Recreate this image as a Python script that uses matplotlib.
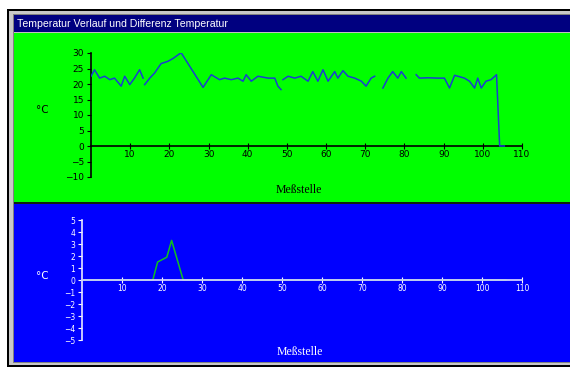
import matplotlib
matplotlib.use("Agg")
import matplotlib.pyplot as plt
import numpy as np
from matplotlib.patches import Rectangle

# Temperaturverlauf (obere Grafik), NaN = Luecke in der Kurve
temp_x = [0, 0.9, 2.2, 3.5, 4.8, 6, 7.7, 8.6, 9.9, 11.1, 12.4, 13.3, np.nan,
          13.7, 15, 16.2, 17.9, 19.6, 20.9, 23, 28.6, 30.7, 32.8, 34.1, 35.8,
          37.5, 38.8, 39.6, 40.9, 42.6, 45.2, 46.9, 47.7, 48.5, np.nan,
          49, 50.3, 52, 53.6, 55.4, 56.6, 57.9, 59.2, 60.5, 62.2, 63, 64.3,
          65.6, 67.3, 69, 70.2, 71.5, 72.4, np.nan,
          74.5, 75.8, 77, 78.3, 79.2, 80.4, np.nan,
          83, 83.8, 86, 88.5, 90.2, 91.5, 92.8, 95.3, 96.6, 97.9, 98.7, 99.6,
          100.8, 102.1, 103.5, 104.3, 105.5]
temp_y = [22.5, 24.6, 21.9, 22.5, 21.4, 21.9, 19.3, 22.5, 19.8, 21.9, 24.6, 21.9, np.nan,
          19.8, 21.9, 23.5, 26.6, 27.3, 28.2, 30.1, 18.9, 23, 21.4, 21.9, 21.4,
          21.9, 20.9, 23, 20.9, 22.5, 21.9, 21.9, 19.3, 18.2, np.nan,
          21.4, 22.5, 21.9, 22.5, 20.9, 24, 20.9, 24.6, 20.9, 24, 21.9, 24.3,
          22.5, 21.9, 20.9, 19.3, 21.9, 22.5, np.nan,
          18.7, 21.9, 24, 21.9, 24, 21.9, np.nan,
          23, 21.9, 22, 21.9, 21.9, 18.7, 22.8, 21.9, 20.9, 18.7, 21.9, 18.7,
          20.9, 21.4, 23, 0, 0]

# Differenz Temperatur (untere Grafik)
diff_x = [0, 17.7, 18.9, 21.2, 22.4, 25.3, 106]
diff_y = [0, 0, 1.5, 1.9, 3.3, 0, 0]

x_ticks = [10, 20, 30, 40, 50, 60, 70, 80, 90, 100, 110]
top_yticks = [30, 25, 20, 15, 10, 5, 0, -5, -10]
bot_yticks = [5, 4, 3, 2, 1, 0, -1, -2, -3, -4, -5]
title = "Temperatur Verlauf und Differenz Temperatur"

W, H = 570, 367
fig = plt.figure(figsize=(W / 100, H / 100), dpi=100)
fig.patch.set_facecolor("white")


def px_rect(x0, y0, x1, y1, color):
    # Rechteck in Pixelkoordinaten (Ursprung oben links)
    r = Rectangle((x0 / W, 1 - y1 / H), (x1 - x0) / W, (y1 - y0) / H,
                  transform=fig.transFigure, facecolor=color,
                  edgecolor="none", zorder=-10)
    fig.patches.append(r)


def px_axes(x0, y0, x1, y1):
    return fig.add_axes([x0 / W, 1 - y1 / H, (x1 - x0) / W, (y1 - y0) / H])


# Fensterrahmen
px_rect(7, 9, W, H, "black")
px_rect(9, 11, W, 365, "#c8c8c8")
px_rect(13, 14, W, 363, "#808080")
px_rect(14, 15, W, 32, "#000080")
px_rect(14, 32, W, 33, "#c0c0c0")
px_rect(14, 33, W, 202, "#00ff00")
px_rect(14, 202, W, 204, "#102010")
px_rect(14, 204, W, 362, "#0000ff")
fig.text(17 / W, 1 - 24 / H, title, color="white", fontsize=7.6,
         family="Liberation Sans", va="center", ha="left")

# obere Grafik
ax1 = px_axes(91, 53, 522, 177)
ax1.patch.set_alpha(0)
ax1.plot(temp_x, temp_y, color="#1a3fd0", lw=1.1, zorder=3)
ax1.set_xlim(0, 110)
ax1.set_ylim(-10, 30)
for s in ["top", "right"]:
    ax1.spines[s].set_visible(False)
ax1.spines["bottom"].set_position(("data", 0))
ax1.spines["bottom"].set_color("black")
ax1.spines["bottom"].set_linewidth(1.2)
ax1.spines["left"].set_linewidth(1.2)
ax1.set_xticks(x_ticks)
ax1.set_yticks(top_yticks)
ax1.tick_params(axis="x", direction="inout", length=4, width=0.8,
                labelsize=6.5, pad=1)
ax1.tick_params(axis="y", direction="out", length=3, width=0.8,
                labelsize=6.5, pad=2)
fig.text(42 / W, 1 - 110 / H, "°C", color="black", fontsize=7.5,
         ha="center", va="center")
fig.text(299 / W, 1 - 190 / H, "Meßstelle", color="black", fontsize=8.5,
         family="Liberation Serif", ha="center", va="center")

# untere Grafik
ax2 = px_axes(82, 220, 522, 340)
ax2.patch.set_alpha(0)
ax2.plot(diff_x, diff_y, color="#10c020", lw=1.1, zorder=2)
ax2.set_xlim(0, 110)
ax2.set_ylim(-5, 5)
for s in ["top", "right"]:
    ax2.spines[s].set_visible(False)
ax2.spines["bottom"].set_position(("data", 0))
ax2.spines["bottom"].set_color("#d0d0ff")
ax2.spines["bottom"].set_linewidth(1.3)
ax2.spines["left"].set_color("#e8e8ff")
ax2.spines["left"].set_linewidth(1.2)
ax2.set_xticks(x_ticks)
ax2.set_yticks(bot_yticks)
ax2.tick_params(axis="x", direction="inout", length=4, width=0.8,
                colors="white", labelsize=5.5, pad=1)
ax2.tick_params(axis="y", direction="out", length=3, width=0.8,
                colors="white", labelsize=5.5, pad=2)
fig.text(42 / W, 1 - 276 / H, "°C", color="white", fontsize=7.5,
         ha="center", va="center")
fig.text(300 / W, 1 - 352 / H, "Meßstelle", color="white", fontsize=8.5,
         family="Liberation Serif", ha="center", va="center")

fig.savefig("out.png", dpi=100)
